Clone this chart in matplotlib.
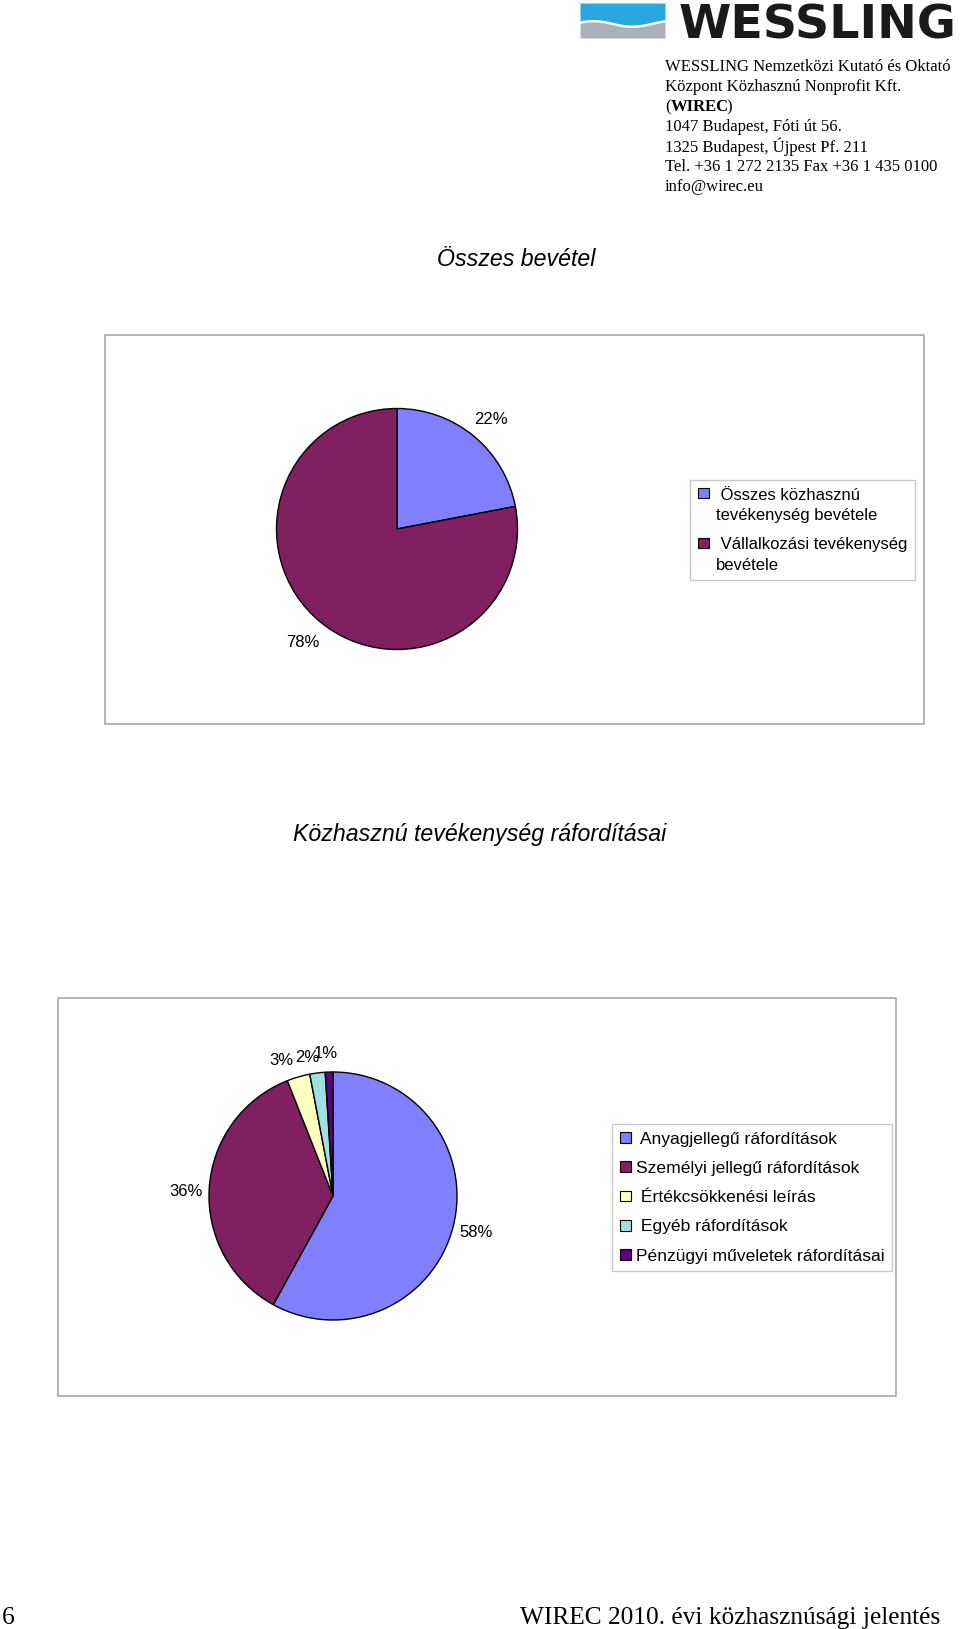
import numpy as np
import matplotlib
matplotlib.use("Agg")
import matplotlib.pyplot as plt
from matplotlib.patches import Rectangle, Patch
from matplotlib.legend_handler import HandlerPatch

# ---------------- data ----------------
income_labels = [" Összes közhasznú\ntevékenység bevétele",
                 " Vállalkozási tevékenység\nbevétele"]
income_values = [22, 78]
income_colors = ["#8080FF", "#802060"]

cost_labels = [" Anyagjellegű ráfordítások",
               "Személyi jellegű ráfordítások",
               " Értékcsökkenési leírás",
               " Egyéb ráfordítások",
               "Pénzügyi műveletek ráfordításai"]
cost_values = [58, 36, 3, 2, 1]
cost_colors = ["#8080FF", "#802060", "#FFFFC0", "#A0E0E0", "#600080"]

title1 = "Összes bevétel"
title2 = "Közhasznú tevékenység ráfordításai"

header_lines = ["WESSLING Nemzetközi Kutató és Oktató",
                "Központ Közhasznú Nonprofit Kft.",
                "(WIREC)",
                "1047 Budapest, Fóti út 56.",
                "1325 Budapest, Újpest Pf. 211",
                "Tel. +36 1 272 2135 Fax +36 1 435 0100",
                "info@wirec.eu"]
footer_left = "6"
footer_right = "WIREC 2010. évi közhasznúsági jelentés"

# ---------------- figure ----------------
W, H = 960, 1629
fig = plt.figure(figsize=(W / 100, H / 100), dpi=100)
fig.patch.set_facecolor("white")
plt.rcParams["font.family"] = ["Liberation Sans", "DejaVu Sans"]


def fx(x):
    return x / W


def fy(y):
    return 1 - y / H


# logo
lax = fig.add_axes([fx(580), fy(38), fx(85), 35 / H])
lax.set_xlim(0, 1)
lax.set_ylim(0, 1)
lax.axis("off")
xs = np.linspace(0, 1, 60)
wave = 0.45 + 0.08 * np.sin(xs * 2 * np.pi * 1.1 + 0.5)
lax.fill_between(xs, wave, 1, color="#29A8E0", lw=0)
lax.fill_between(xs, 0, wave - 0.07, color="#A9B0B7", lw=0)
fig.text(fx(679), fy(38.5), "WESSLING", fontsize=34.2, fontweight="bold",
         color="#1a1a1a", va="baseline", ha="left", family="DejaVu Sans")

# header address
hy0 = 67
for i, line in enumerate(header_lines):
    yy = fy(hy0 + 20 * i)
    if line == "(WIREC)":
        fig.text(fx(665), yy, "(", fontsize=12, family="Liberation Serif",
                 va="center", ha="left")
        fig.text(fx(671), yy, "WIREC", fontsize=12, family="Liberation Serif",
                 fontweight="bold", va="center", ha="left")
        fig.text(fx(726), yy, ")", fontsize=12, family="Liberation Serif",
                 va="center", ha="left")
    else:
        fig.text(fx(665), yy, line, fontsize=12, family="Liberation Serif",
                 va="center", ha="left")

# titles
fig.text(fx(516), fy(259), title1, fontsize=16.7, style="italic", ha="center", va="center")
fig.text(fx(480), fy(835), title2, fontsize=16.7, style="italic", ha="center", va="center")

# frames
for (x0, y0, x1, y1) in [(105, 335, 924, 724), (58, 998, 896, 1396)]:
    fig.patches.append(Rectangle((fx(x0), fy(y1)), fx(x1 - x0), (y1 - y0) / H,
                                 transform=fig.transFigure, fill=False,
                                 edgecolor="#A8A8A8", lw=1.2))


def pie_axes(cx, cy, r):
    return fig.add_axes([fx(cx - r), fy(cy + r), fx(2 * r), 2 * r / H])


# pie 1
ax1 = pie_axes(397, 529, 120.5)
w1, t1, a1 = ax1.pie(income_values, colors=income_colors, startangle=90, counterclock=False,
                     autopct="%d%%", pctdistance=1.22,
                     wedgeprops=dict(edgecolor="black", linewidth=1.0),
                     textprops=dict(fontsize=12, color="black"))
ax1.set_xlim(-1, 1)
ax1.set_ylim(-1, 1)
ax1.axis("off")
a1[0].set_position((a1[0].get_position()[0], a1[0].get_position()[1] - 0.03))

# pie 2
ax2 = pie_axes(333, 1196, 124)
w2, t2, a2 = ax2.pie(cost_values, colors=cost_colors, startangle=90, counterclock=False,
                     autopct="%d%%", pctdistance=1.19,
                     wedgeprops=dict(edgecolor="black", linewidth=1.0),
                     textprops=dict(fontsize=12, color="black"))
ax2.set_xlim(-1, 1)
ax2.set_ylim(-1, 1)
ax2.axis("off")
a2[1].set_position((a2[1].get_position()[0], a2[1].get_position()[1] - 0.04))
# small-slice labels, placed as in the reference (they crowd together)
small_pos = [(-0.42, 1.09), (-0.21, 1.12), (-0.06, 1.15)]
for txt, pos in zip(a2[2:], small_pos):
    txt.set_position(pos)


class SquareHandler(HandlerPatch):
    def __init__(self, shift=0.0, **kw):
        super().__init__(**kw)
        self.shift = shift

    def create_artists(self, legend, orig_handle, xdescent, ydescent, width, height,
                       fontsize, trans):
        s = 0.62 * fontsize
        r = Rectangle((-xdescent + (width - s) / 2, -ydescent + (height - s) / 2 + self.shift),
                      s, s, facecolor=orig_handle.get_facecolor(),
                      edgecolor="black", lw=0.8, transform=trans)
        return [r]


# legends
h1 = [Patch(facecolor=c) for c in income_colors]
leg1 = fig.legend(h1, income_labels, loc="upper left",
                  bbox_to_anchor=(fx(690), fy(480)), borderaxespad=0,
                  fancybox=False, edgecolor="#C8C8C8", fontsize=12,
                  handlelength=0.7, handleheight=0.7, handletextpad=0.4,
                  labelspacing=0.87, borderpad=0.45, framealpha=1,
                  handler_map={Patch: SquareHandler(shift=9.0)})
leg1.get_frame().set_linewidth(1.0)
for t in leg1.get_texts():
    t.set_linespacing(1.45)

h2 = [Patch(facecolor=c) for c in cost_colors]
leg2 = fig.legend(h2, cost_labels, loc="upper left",
                  bbox_to_anchor=(fx(612), fy(1124)), borderaxespad=0,
                  fancybox=False, edgecolor="#C8C8C8", fontsize=12.6,
                  handlelength=0.7, handleheight=0.7, handletextpad=0.25,
                  labelspacing=0.8, borderpad=0.42, framealpha=1,
                  handler_map={Patch: SquareHandler(shift=0.0)})
leg2.get_frame().set_linewidth(1.0)

# footer
fig.text(fx(2), fy(1618), footer_left, fontsize=18.3, family="Liberation Serif",
         ha="left", va="center")
fig.text(fx(940), fy(1618), footer_right, fontsize=18.3, family="Liberation Serif",
         ha="right", va="center")

fig.savefig("out.png", dpi=100, facecolor="white")
